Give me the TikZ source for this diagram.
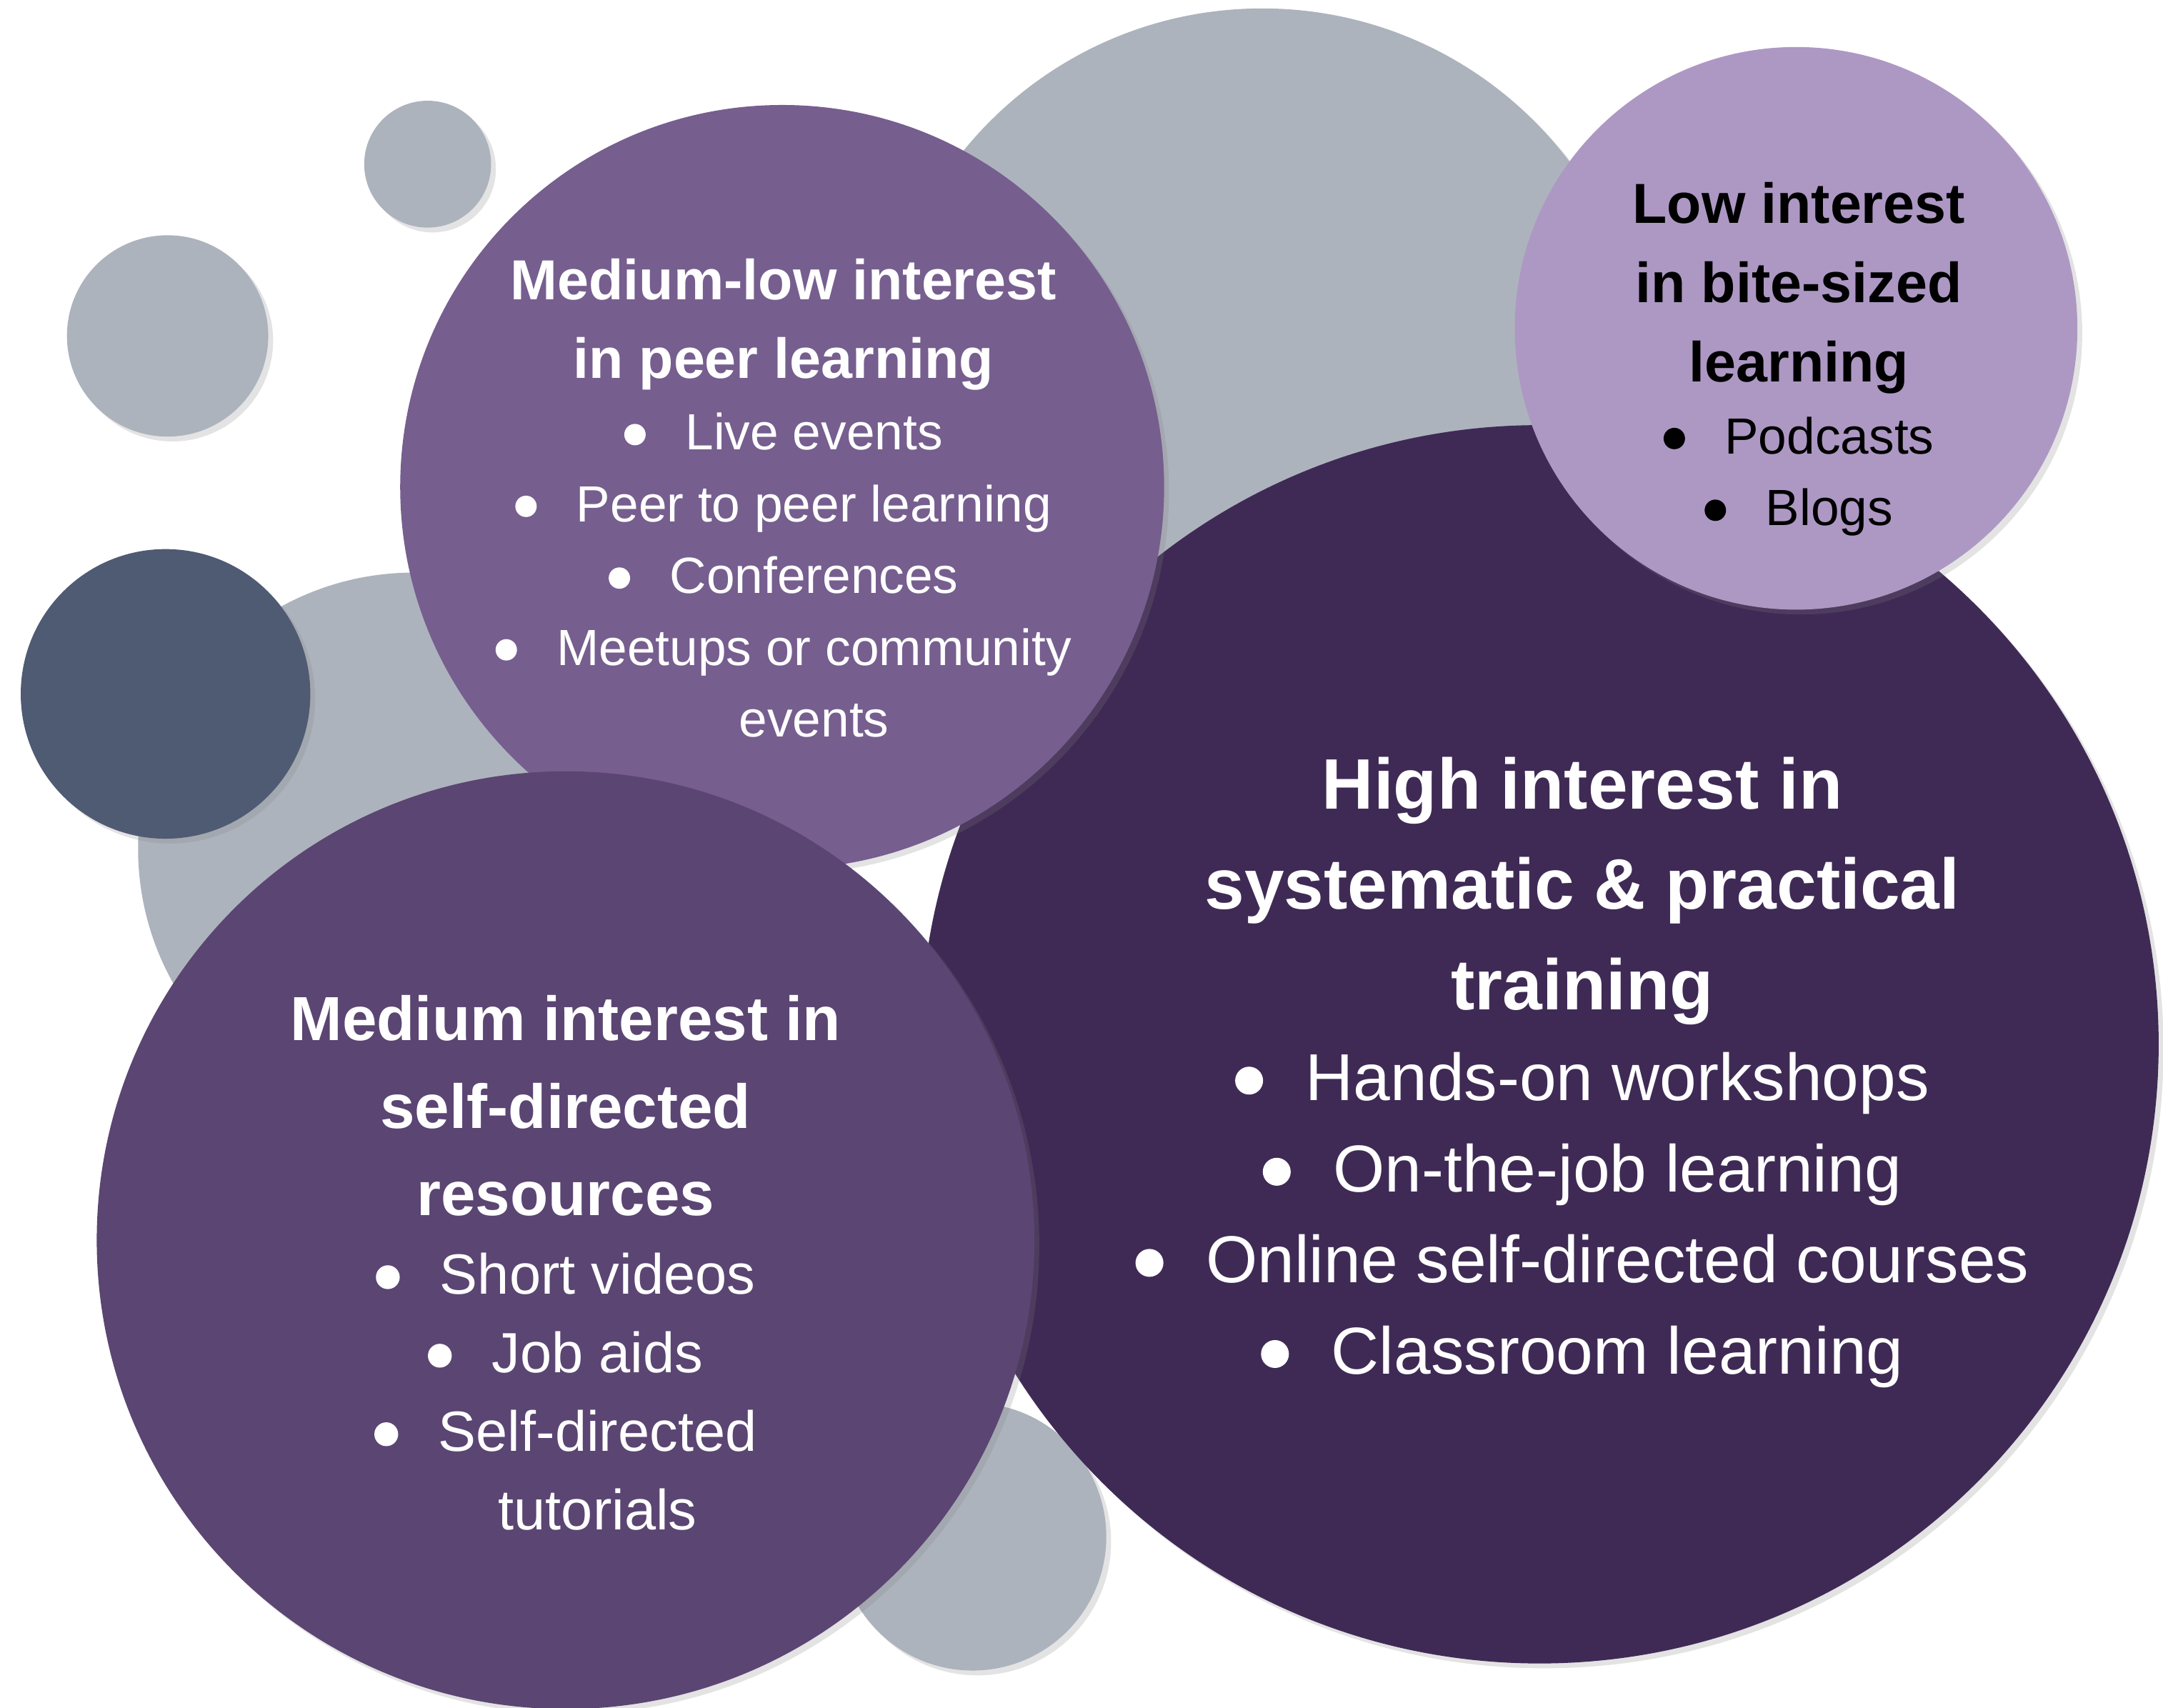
\documentclass[tikz,border=0pt]{standalone}
\usepackage{fontspec}
\setmainfont{Liberation Sans}
\usetikzlibrary{shadows}

\definecolor{mistgray}{HTML}{ADB3BD}
\definecolor{slateblue}{HTML}{4F5B73}
\definecolor{plumdark}{HTML}{3F2A55}
\definecolor{plummid}{HTML}{5B4572}
\definecolor{plumsoft}{HTML}{765E8F}
\definecolor{lilac}{HTML}{AD98C4}

\newcommand{\bul}[1]{\makebox[#1][l]{\tikz[baseline=0pt]\fill (0pt,0.3em) circle (0.21em);}}
\newcommand{\headfont}[2]{\fontsize{#1}{#2}\selectfont\bfseries\spaceskip=\fontdimen2\font\xspaceskip=\fontdimen2\font}
\newcommand{\itemfont}[2]{\fontsize{#1}{#2}\selectfont\mdseries\spaceskip=\fontdimen2\font\xspaceskip=\fontdimen2\font}

\begin{document}
\begin{tikzpicture}
    [
        x=0.02cm, y=-0.02cm,
        bubble/.style = {circle, inner sep=0pt, minimum size=#1*0.04cm, drop shadow={opacity=0.22, shadow xshift=2pt, shadow yshift=-2pt}},
        txt/.style = {text width=15cm, align=center, inner sep=0pt, text=white},
    ]
    \useasboundingbox (0,0) rectangle (1568,1238);

    % grey dots behind
    \node[bubble=279, fill=mistgray] (dottop) at (915,285) {};
    \node[bubble=46, fill=mistgray] (dotsmall) at (310,119) {};
    \node[bubble=73, fill=mistgray] (dotleft) at (121.5,243.5) {};
    \node[bubble=200, fill=mistgray] (dotmid) at (300,615) {};
    \node[bubble=97, fill=mistgray] (dotlow) at (705,1114) {};
    \node[bubble=105, fill=slateblue] (dotslate) at (120,503) {};

    % interest circles
    \node[bubble=449, fill=plumdark] (high) at (1116,757) {};
    \node[bubble=277, fill=plumsoft] (peer) at (567,353) {};
    \node[bubble=204, fill=lilac] (bite) at (1302,238) {};
    \node[bubble=340, fill=plummid] (self) at (410,899) {};

    \node[txt] (peertxt) at (568,361) {{\headfont{23.3}{32.4}Medium-low interest\\in peer learning\par}%
        {\itemfont{21}{29.6}\bul{1.2em}Live events\\\bul{1.2em}Peer to peer learning\\\bul{1.2em}Conferences\\%
        \bul{1.2em}Meetups or community\\\hspace*{1.2em}events\par}};

    \node[txt, text=black] (bitetxt) at (1304,260.5) {{\headfont{23.3}{32.7}Low interest\\in bite-sized\\learning\par}%
        {\itemfont{21}{29.6}\bul{1.2em}Podcasts\\\bul{1.2em}Blogs\par}};

    \node[txt] (hightxt) at (1147,777.5) {{\headfont{29.5}{41.3}High interest in\\systematic \& practical\\training\par}%
        {\itemfont{27.4}{37.6}\bul{1.06em}Hands-on workshops\\\bul{1.06em}On-the-job learning\\%
        \bul{1.06em}Online self-directed courses\\\bul{1.06em}Classroom learning\par}};

    \node[txt] (selftxt) at (410,915.5) {{\headfont{25.7}{36.1}Medium interest in\\self-directed\\resources\par}%
        {\itemfont{23.4}{32.4}\bul{1.13em}Short videos\\\bul{1.13em}Job aids\\\bul{1.13em}Self-directed\\%
        \hspace*{1.13em}tutorials\par}};

\end{tikzpicture}
\end{document}
